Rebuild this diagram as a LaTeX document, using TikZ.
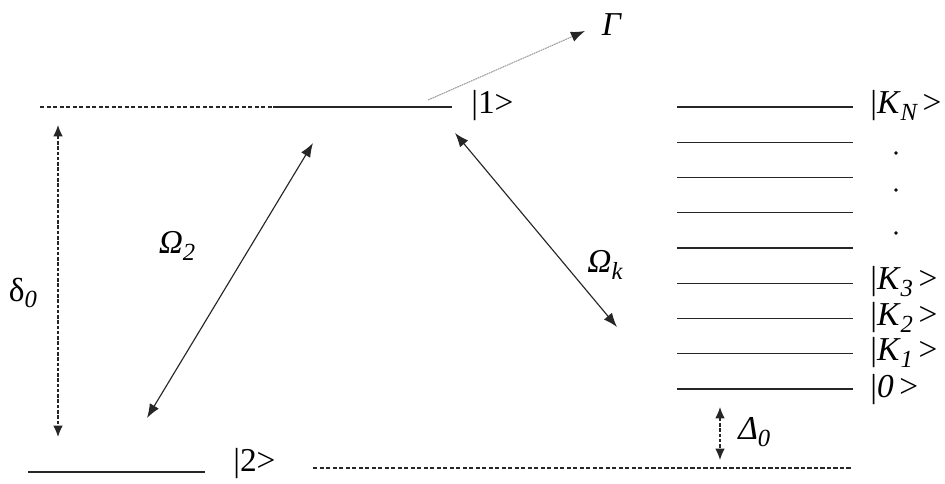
\documentclass[tikz,border=0pt]{standalone}
\usepackage{fontspec}
\setmainfont{Liberation Serif}
\usepackage{tikz}
\usetikzlibrary{arrows.meta}
\def\normaledge{0.8}
\definecolor{edgeblack}{rgb}{0.15,0.15,0.15}
\definecolor{decaygray}{rgb}{0.62,0.62,0.62}
\newcommand{\lowsub}[1]{\raisebox{-0.45ex}{\fontsize{14}{14}\selectfont\itshape #1}}

\begin{document}
\begin{tikzpicture}[x = 1cm, y = 1cm, scale = 1,
    level/.style={line width=\normaledge, color=edgeblack},
    guide/.style={line width=\normaledge, color=edgeblack, dash pattern=on 2.5pt off 1.2pt},
    coupling/.style={line width=0.65, color=edgeblack, {Latex[length=8pt,width=6pt]}-{Latex[length=8pt,width=6pt]}},
    detuning/.style={line width=0.65, color=edgeblack, dash pattern=on 2pt off 1pt, {Latex[length=6.5pt,width=5.5pt]}-{Latex[length=6.5pt,width=5.5pt]}},
    statelabel/.style={anchor=west, inner sep=0pt, font=\fontsize{19}{22}\selectfont},
    greeklabel/.style={inner sep=0pt, font=\fontsize{19}{22}\selectfont}]

    \useasboundingbox (0,0) rectangle (18.9,9.66);

    % excited level |1>
    \node (t0) at (0.8,7.52){};
    \node (t1) at (5.46,7.52){};
    \node (t2) at (9.04,7.52){};
    \draw [guide] (t0.center) -- (t1.center);
    \draw [level] (t1.center) -- (t2.center);
    \node [statelabel] (one) at (9.42,7.55){|1>};

    % ground level |2>
    \node (g0) at (0.56,0.22){};
    \node (g1) at (4.1,0.22){};
    \draw [level] (g0.center) -- (g1.center);
    \node [statelabel] (two) at (4.66,0.38){|2>};
    \node (d0) at (6.26,0.3){};
    \node (d1) at (17.04,0.3){};
    \draw [guide] (d0.center) -- (d1.center);

    % band of levels
    \node (k0a) at (13.54,1.88){};  \node (k0b) at (17.06,1.88){};
    \node (k1a) at (13.54,2.585){}; \node (k1b) at (17.06,2.585){};
    \node (k2a) at (13.54,3.29){};  \node (k2b) at (17.06,3.29){};
    \node (k3a) at (13.54,3.995){}; \node (k3b) at (17.06,3.995){};
    \node (k4a) at (13.54,4.70){};  \node (k4b) at (17.06,4.70){};
    \node (k5a) at (13.54,5.405){}; \node (k5b) at (17.06,5.405){};
    \node (k6a) at (13.54,6.11){};  \node (k6b) at (17.06,6.11){};
    \node (k7a) at (13.54,6.815){}; \node (k7b) at (17.06,6.815){};
    \node (k8a) at (13.54,7.52){};  \node (k8b) at (17.06,7.52){};
    \draw [level] (k0a.center) -- (k0b.center);
    \draw [level] (k1a.center) -- (k1b.center);
    \draw [level] (k2a.center) -- (k2b.center);
    \draw [level] (k3a.center) -- (k3b.center);
    \draw [level] (k4a.center) -- (k4b.center);
    \draw [level] (k5a.center) -- (k5b.center);
    \draw [level] (k6a.center) -- (k6b.center);
    \draw [level] (k7a.center) -- (k7b.center);
    \draw [level] (k8a.center) -- (k8b.center);

    \node [statelabel] (zero) at (17.4,1.86){|\textit{0}\,>};
    \node [statelabel] (K1) at (17.4,2.61){|\textit{K}\lowsub{1}\,>};
    \node [statelabel] (K2) at (17.4,3.31){|\textit{K}\lowsub{2}\,>};
    \node [statelabel] (K3) at (17.4,4.02){|\textit{K}\lowsub{3}\,>};
    \node [statelabel] (KN) at (17.4,7.55){|\textit{K}\lowsub{N}\,>};
    \draw [fill=edgeblack] (17.92,6.6) circle (0.8pt);
    \draw [fill=edgeblack] (17.92,5.86) circle (0.8pt);
    \draw [fill=edgeblack] (17.92,5.0) circle (0.8pt);

    % couplings
    \node (a1) at (2.94,1.3){};
    \node (a2) at (6.26,6.8){};
    \draw [coupling] (a1.center) -- (a2.center);
    \node [greeklabel] (om2) at (3.54,4.74){\textit{Ω}\lowsub{2}};

    \node (b1) at (9.1,7.0){};
    \node (b2) at (12.34,3.12){};
    \draw [coupling] (b1.center) -- (b2.center);
    \node [greeklabel] (omk) at (12.1,4.36){\textit{Ω}\lowsub{k}};

    % decay
    \node (c1) at (8.56,7.66){};
    \node (c2) at (11.7,9.04){};
    \draw [line width=0.6, color=decaygray, dash pattern=on 1pt off 0.4pt, -{Latex[length=8pt,width=6pt,color=edgeblack]}] (c1.center) -- (c2.center);
    \node [greeklabel] (gam) at (12.24,9.16){\textit{Γ}};

    % detunings
    \node (e1) at (1.16,7.16){};
    \node (e2) at (1.16,0.92){};
    \draw [detuning] (e1.center) -- (e2.center);
    \node [greeklabel] (del) at (0.46,3.8){δ\lowsub{0}};

    \node (f1) at (14.4,1.52){};
    \node (f2) at (14.4,0.46){};
    \draw [detuning] (f1.center) -- (f2.center);
    \node [statelabel] (Del) at (14.76,1.02){\textit{Δ}\lowsub{0}};

\end{tikzpicture}
\end{document}
